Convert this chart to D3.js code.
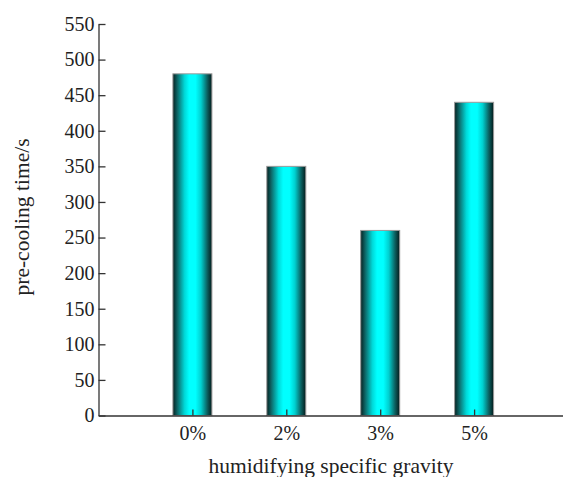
<!DOCTYPE html>
<html><head><meta charset="utf-8">
<script src="https://cdn.jsdelivr.net/npm/d3@7"></script>
<style>body{margin:0;background:#fff}svg{display:block}</style>
</head><body>
<script>
const categories = ["0%", "2%", "3%", "5%"];
const values = [480, 350, 260, 440];
const yTicks = [0, 50, 100, 150, 200, 250, 300, 350, 400, 450, 500, 550];
const xTitle = "humidifying specific gravity";
const yTitle = "pre-cooling time/s";

const W = 563, H = 477;
const svg = d3.select("body").append("svg").attr("width", W).attr("height", H);
const font = "'Liberation Serif','Times New Roman',serif";

const x = d3.scaleLinear().domain([0, 5]).range([98.5, 568]);
const y = d3.scaleLinear().domain([0, 550]).range([415.5, 24]);
const barW = 39;

const defs = svg.append("defs");
const g = defs.append("linearGradient").attr("id", "barGrad").attr("x1", "0").attr("x2", "1").attr("y1", "0").attr("y2", "0");
[[0, "#062020"], [0.12, "#0d6a6a"], [0.3, "#00d8d8"], [0.42, "#00ffff"], [0.58, "#00ffff"], [0.72, "#00d0d0"], [0.88, "#0b6060"], [1, "#041a1a"]]
  .forEach(([o, c]) => g.append("stop").attr("offset", o).attr("stop-color", c));

// bars
svg.append("g").selectAll("rect").data(values).join("rect")
  .attr("x", (d, i) => x(i + 1) - barW / 2)
  .attr("y", d => y(d))
  .attr("width", barW)
  .attr("height", d => y(0) - y(d))
  .attr("fill", "url(#barGrad)")
  .attr("stroke", "#9a9a9a")
  .attr("stroke-width", 1);

// y axis
const yAxis = svg.append("g").attr("transform", `translate(${x(0)},0)`)
  .call(d3.axisLeft(y).tickValues(yTicks).tickSizeInner(-7).tickSizeOuter(0).tickPadding(4));
yAxis.select(".domain").attr("stroke", "#333").attr("stroke-width", 1.3);
yAxis.selectAll(".tick line").attr("stroke", "#333").attr("stroke-width", 1.3);
yAxis.selectAll("text").attr("font-family", font).attr("font-size", 20).attr("fill", "#222");

// x axis
const xAxis = svg.append("g").attr("transform", `translate(0,${y(0)})`)
  .call(d3.axisBottom(x).tickValues([1, 2, 3, 4]).tickFormat((d) => categories[d - 1]).tickSizeInner(-6).tickSizeOuter(0).tickPadding(10));
xAxis.select(".domain").attr("stroke", "#333").attr("stroke-width", 1.3);
xAxis.selectAll(".tick line").attr("stroke", "#333").attr("stroke-width", 1.3);
xAxis.selectAll("text").attr("font-family", font).attr("font-size", 20).attr("fill", "#222");

svg.append("text").attr("x", 331).attr("y", 473).attr("text-anchor", "middle")
  .attr("font-family", font).attr("font-size", 21.5).attr("fill", "#222").text(xTitle);
svg.append("text").attr("transform", "translate(29,217) rotate(-90)").attr("text-anchor", "middle")
  .attr("font-family", font).attr("font-size", 21.5).attr("fill", "#222").text(yTitle);
</script>
</body></html>
